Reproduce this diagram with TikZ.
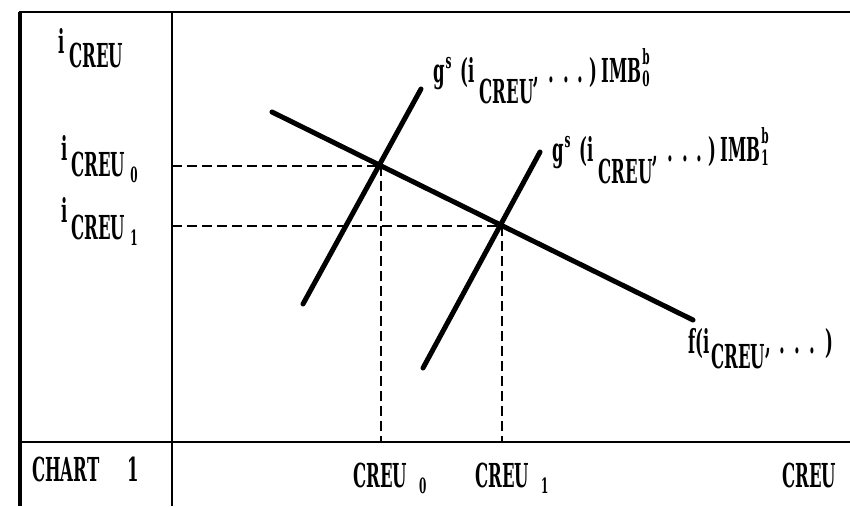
\documentclass[tikz,border=0pt]{standalone}
\usepackage{fontspec}
\newfontfamily\cf[FakeStretch=0.5]{DejaVu Serif}
\newcommand{\lw}[2]{\raisebox{-#1}{#2}}
\newcommand{\sm}{\fontsize{21}{21}\selectfont}
\newcommand{\dts}{,\hspace{9pt}.\hspace{9pt}.\hspace{9pt}.}
\tikzset{
  frame/.style={line width=2.5pt, line cap=rect},
  thin frame/.style={line width=1.8pt},
  curve/.style={line width=5pt, line cap=round},
  guide/.style={line width=1.5pt, dash pattern=on 10pt off 5pt},
  lab/.style={anchor=base west, inner sep=0pt, font=\cf\bfseries\fontsize{33}{36}\selectfont}
}
\begin{document}
\begin{tikzpicture}[x=1pt, y=-1pt]
\useasboundingbox (0,0) rectangle (850,506);
% frame
\coordinate (tl) at (20,12);
\coordinate (tr) at (850,12);
\coordinate (bl) at (20,506);
\coordinate (dt) at (172,12);
\coordinate (db) at (172,506);
\coordinate (al) at (20,442);
\coordinate (ar) at (850,442);
\draw[frame] (tl) -- (tr);
\draw[line width=3.5pt] (tl) -- (bl);
\draw[thin frame] (dt) -- (db);
\draw[frame] (al) -- (ar);
% curves
\coordinate (f1) at (272,112);
\coordinate (f2) at (693,320);
\coordinate (ga1) at (303,304);
\coordinate (ga2) at (421,89);
\coordinate (gb1) at (423,368);
\coordinate (gb2) at (540,152);
\draw[curve] (f1) -- (f2);
\draw[curve] (ga1) -- (ga2);
\draw[curve] (gb1) -- (gb2);
% equilibria
\coordinate (e0) at (381,166);
\coordinate (e1) at (502,226);
\coordinate (y0) at (172,166);
\coordinate (y1) at (172,226);
\coordinate (x0) at (381,442);
\coordinate (x1) at (502,442);
\draw[guide] (y0) -- (e0);
\draw[guide] (y1) -- (e1);
\draw[guide] (e0) -- (x0);
\draw[guide] (e1) -- (x1);
% labels
\node[lab] (ylab) at (58,53) {i\hspace{5pt}\lw{14pt}{CREU}};
\node[lab] (ylab0) at (61,160) {i\hspace{4pt}\lw{16pt}{CREU\hspace{5pt}\lw{6pt}{\sm 0}}};
\node[lab] (ylab1) at (61,222) {i\hspace{4pt}\lw{17pt}{CREU\hspace{5pt}\lw{6pt}{\sm 1}}};
\node[lab] (chart) at (32,481) {CHART\hspace{28pt}1};
\node[lab] (xlab0) at (353,487) {CREU\hspace{12pt}\lw{6pt}{\sm 0}};
\node[lab] (xlab1) at (475,487) {CREU\hspace{12pt}\lw{6pt}{\sm 1}};
\node[lab] (xlab) at (782,487) {CREU};
\node[lab] (glab0) at (433,82) {g\hspace{1pt}\raisebox{14pt}{\sm s}\hspace{9pt}(i\hspace{5pt}\lw{21pt}{CREU}\dts\hspace{6pt})\hspace{4pt}IMB\hspace{1pt}\rlap{\raisebox{18pt}{\sm b}}\lw{4pt}{\sm 0}};
\node[lab] (glab1) at (552,161) {g\hspace{1pt}\raisebox{14pt}{\sm s}\hspace{9pt}(i\hspace{5pt}\lw{22pt}{CREU}\dts\hspace{6pt})\hspace{4pt}IMB\hspace{1pt}\rlap{\raisebox{18pt}{\sm b}}\lw{4pt}{\sm 1}};
\node[lab] (flab) at (688,353) {f(i\hspace{2pt}\lw{15pt}{CREU}\dts\hspace{10pt})};
\end{tikzpicture}
\end{document}
